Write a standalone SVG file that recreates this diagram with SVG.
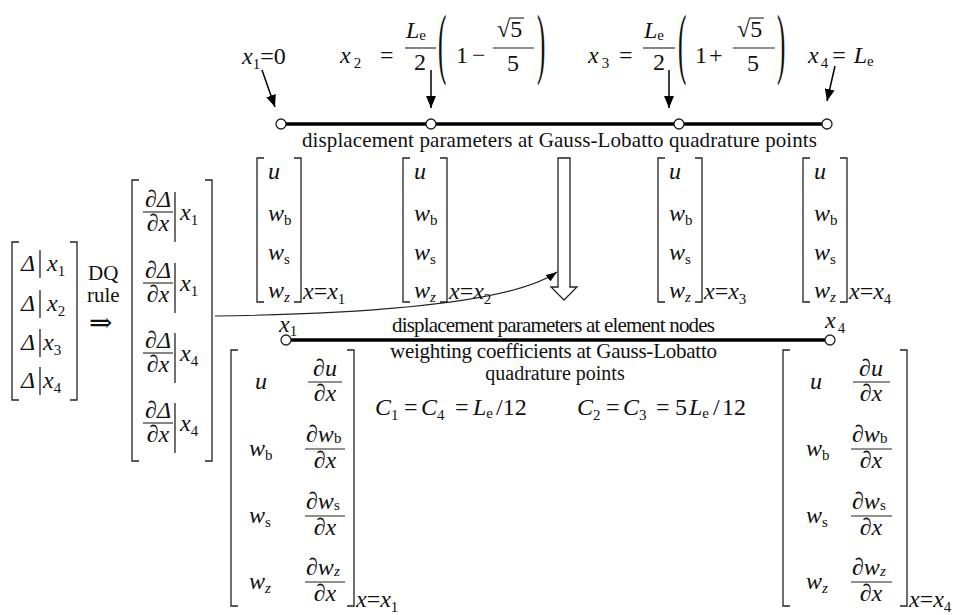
<svg xmlns="http://www.w3.org/2000/svg" width="958" height="615" viewBox="0 0 958 615">
<defs>
<style>
text { font-family: "Liberation Serif", "Times New Roman", "DejaVu Serif", serif; fill: #111; }
.m { font-size: 24px; }
.i { font-style: italic; }
.sb { font-size: 15px; font-style: normal; }
.si { font-size: 15px; font-style: italic; }
.lbl { font-size: 21px; }
.pr { font-size: 78px; }
.br { fill: none; stroke: #222; stroke-width: 1.3; }
.bar { stroke: #222; stroke-width: 1.3; }
.fl { stroke: #222; stroke-width: 1.1; }
.ln { stroke: #000; stroke-width: 3.5; }
.node { fill: #fff; stroke: #222; stroke-width: 1.3; }
.arr { stroke: #000; stroke-width: 1.5; fill: none; marker-end: url(#ah); }
.crv { stroke: #222; stroke-width: 1.1; fill: none; marker-end: url(#ah2); }
</style>
<marker id="ah" markerUnits="userSpaceOnUse" markerWidth="12" markerHeight="10" viewBox="0 0 12 10" refX="12" refY="5" orient="auto"><path d="M0,0 L12,5 L0,10 z" fill="#000"/></marker>
<marker id="ah2" markerUnits="userSpaceOnUse" markerWidth="11" markerHeight="8" viewBox="0 0 11 8" refX="11" refY="4" orient="auto"><path d="M0,0 L11,4 L0,8 z" fill="#000"/></marker>
</defs>

<!-- top formulas -->
<g id="lbl-x1">
<text class="m" x="242" y="64"><tspan class="i">x</tspan><tspan class="sb" dy="5">1</tspan><tspan dy="-5">=0</tspan></text>
</g>
<g id="lbl-x2">
<text class="m" x="340" y="63"><tspan class="i">x</tspan><tspan class="sb" dy="5" dx="3">2</tspan></text>
<text class="m" x="380" y="63">=</text>
<text class="m" x="406" y="38"><tspan class="i">L</tspan><tspan class="sb" dy="2">e</tspan></text>
<line class="fl" x1="405" y1="48" x2="436" y2="48"/>
<text class="m" x="420" y="70" text-anchor="middle">2</text>
<text class="pr" transform="translate(438,69) scale(0.32,1)">(</text>
<text class="m" x="456" y="63">1</text>
<text class="m" x="472" y="63">−</text>
<text class="m" x="497" y="37">√5</text>
<line class="fl" x1="510" y1="18" x2="524" y2="18"/>
<line class="fl" x1="493" y1="48" x2="534" y2="48"/>
<text class="m" x="513" y="71" text-anchor="middle">5</text>
<text class="pr" transform="translate(537,69) scale(0.32,1)">)</text>
</g>
<g id="lbl-x3">
<text class="m" x="588" y="63"><tspan class="i">x</tspan><tspan class="sb" dy="5" dx="3">3</tspan></text>
<text class="m" x="619" y="63">=</text>
<text class="m" x="644" y="38"><tspan class="i">L</tspan><tspan class="sb" dy="2">e</tspan></text>
<line class="fl" x1="643" y1="48" x2="675" y2="48"/>
<text class="m" x="659" y="70" text-anchor="middle">2</text>
<text class="pr" transform="translate(678,69) scale(0.32,1)">(</text>
<text class="m" x="695" y="63">1</text>
<text class="m" x="709" y="63">+</text>
<text class="m" x="737" y="37">√5</text>
<line class="fl" x1="750" y1="18" x2="764" y2="18"/>
<line class="fl" x1="733" y1="48" x2="775" y2="48"/>
<text class="m" x="753" y="71" text-anchor="middle">5</text>
<text class="pr" transform="translate(777,69) scale(0.32,1)">)</text>
</g>
<g id="lbl-x4">
<text class="m" x="808" y="63"><tspan class="i">x</tspan><tspan class="sb" dy="5" dx="2">4</tspan><tspan dy="-5" dx="4">=</tspan><tspan class="i" dx="8">L</tspan><tspan class="sb" dy="3">e</tspan></text>
</g>

<!-- Gauss-Lobatto line -->
<g id="gl-line">
<line class="ln" x1="281" y1="124" x2="827" y2="124"/>
<circle class="node" cx="281" cy="124" r="5"/>
<circle class="node" cx="431" cy="124" r="5"/>
<circle class="node" cx="679" cy="124" r="5"/>
<circle class="node" cx="827" cy="124" r="5"/>
<text class="lbl" x="302" y="147" textLength="515">displacement parameters at Gauss-Lobatto quadrature points</text>
</g>

<!-- top vectors -->
<g id="vec-x1" transform="translate(257,0)">
<path class="br" d="M7,158 H0 V302 H7"/><path class="br" d="M37,158 H44 V302 H37"/>
<text class="m i" x="11" y="179">u</text>
<text class="m" x="11" y="221"><tspan class="i">w</tspan><tspan class="sb" dy="4">b</tspan></text>
<text class="m" x="11" y="260"><tspan class="i">w</tspan><tspan class="sb" dy="4">s</tspan></text>
<text class="m" x="11" y="298"><tspan class="i">w</tspan><tspan class="si" dy="4">z</tspan></text>
<text class="m" x="46" y="299"><tspan class="i">x</tspan>=<tspan class="i">x</tspan><tspan class="sb" dy="5">1</tspan></text>
</g>
<g id="vec-x2" transform="translate(403,0)">
<path class="br" d="M7,158 H0 V302 H7"/><path class="br" d="M37,158 H44 V302 H37"/>
<text class="m i" x="11" y="179">u</text>
<text class="m" x="11" y="221"><tspan class="i">w</tspan><tspan class="sb" dy="4">b</tspan></text>
<text class="m" x="11" y="260"><tspan class="i">w</tspan><tspan class="sb" dy="4">s</tspan></text>
<text class="m" x="11" y="298"><tspan class="i">w</tspan><tspan class="si" dy="4">z</tspan></text>
<text class="m" x="46" y="299"><tspan class="i">x</tspan>=<tspan class="i">x</tspan><tspan class="sb" dy="5">2</tspan></text>
</g>
<g id="vec-x3" transform="translate(658,0)">
<path class="br" d="M7,158 H0 V302 H7"/><path class="br" d="M37,158 H44 V302 H37"/>
<text class="m i" x="11" y="179">u</text>
<text class="m" x="11" y="221"><tspan class="i">w</tspan><tspan class="sb" dy="4">b</tspan></text>
<text class="m" x="11" y="260"><tspan class="i">w</tspan><tspan class="sb" dy="4">s</tspan></text>
<text class="m" x="11" y="298"><tspan class="i">w</tspan><tspan class="si" dy="4">z</tspan></text>
<text class="m" x="46" y="299"><tspan class="i">x</tspan>=<tspan class="i">x</tspan><tspan class="sb" dy="5">3</tspan></text>
</g>
<g id="vec-x4" transform="translate(803,0)">
<path class="br" d="M7,158 H0 V302 H7"/><path class="br" d="M37,158 H44 V302 H37"/>
<text class="m i" x="11" y="179">u</text>
<text class="m" x="11" y="221"><tspan class="i">w</tspan><tspan class="sb" dy="4">b</tspan></text>
<text class="m" x="11" y="260"><tspan class="i">w</tspan><tspan class="sb" dy="4">s</tspan></text>
<text class="m" x="11" y="298"><tspan class="i">w</tspan><tspan class="si" dy="4">z</tspan></text>
<text class="m" x="46" y="299"><tspan class="i">x</tspan>=<tspan class="i">x</tspan><tspan class="sb" dy="5">4</tspan></text>
</g>

<!-- left delta vector -->
<g id="delta-vec">
<path class="br" d="M19,242 H12 V400 H19"/><path class="br" d="M70,242 H77 V400 H70"/>
<text class="m i" x="21" y="271">Δ</text><line class="bar" x1="40" y1="250" x2="40" y2="278"/>
<text class="m" x="47" y="271"><tspan class="i">x</tspan><tspan class="sb" dy="5">1</tspan></text>
<text class="m i" x="21" y="311">Δ</text><line class="bar" x1="40" y1="290" x2="40" y2="318"/>
<text class="m" x="47" y="311"><tspan class="i">x</tspan><tspan class="sb" dy="5">2</tspan></text>
<text class="m i" x="21" y="350">Δ</text><line class="bar" x1="40" y1="329" x2="40" y2="357"/>
<text class="m" x="43" y="350"><tspan class="i">x</tspan><tspan class="sb" dy="5">3</tspan></text>
<text class="m i" x="21" y="388">Δ</text><line class="bar" x1="40" y1="367" x2="40" y2="395"/>
<text class="m" x="43" y="388"><tspan class="i">x</tspan><tspan class="sb" dy="5">4</tspan></text>
</g>

<g id="dq-rule">
<text class="lbl" x="88" y="280">DQ</text>
<text class="lbl" x="87" y="302">rule</text>
<text font-size="28" x="89" y="332">⇒</text>
</g>

<!-- derivative vector -->
<g id="dq-vec">
<path class="br" d="M139,180 H132 V461 H139"/><path class="br" d="M205,180 H212 V461 H205"/>
<text class="m i" x="158" y="207" text-anchor="middle">∂Δ</text><line class="fl" x1="143" y1="212" x2="173" y2="212"/><text class="m i" x="158" y="231" text-anchor="middle">∂x</text>
<line class="bar" x1="175" y1="192" x2="175" y2="242"/>
<text class="m" x="180" y="220"><tspan class="i">x</tspan><tspan class="sb" dy="5">1</tspan></text>
<text class="m i" x="158" y="278" text-anchor="middle">∂Δ</text><line class="fl" x1="143" y1="283" x2="173" y2="283"/><text class="m i" x="158" y="302" text-anchor="middle">∂x</text>
<line class="bar" x1="175" y1="263" x2="175" y2="313"/>
<text class="m" x="180" y="291"><tspan class="i">x</tspan><tspan class="sb" dy="5">1</tspan></text>
<text class="m i" x="158" y="348" text-anchor="middle">∂Δ</text><line class="fl" x1="143" y1="353" x2="173" y2="353"/><text class="m i" x="158" y="372" text-anchor="middle">∂x</text>
<line class="bar" x1="175" y1="333" x2="175" y2="383"/>
<text class="m" x="180" y="361"><tspan class="i">x</tspan><tspan class="sb" dy="5">4</tspan></text>
<text class="m i" x="158" y="418" text-anchor="middle">∂Δ</text><line class="fl" x1="143" y1="423" x2="173" y2="423"/><text class="m i" x="158" y="442" text-anchor="middle">∂x</text>
<line class="bar" x1="175" y1="403" x2="175" y2="453"/>
<text class="m" x="180" y="431"><tspan class="i">x</tspan><tspan class="sb" dy="5">4</tspan></text>
</g>

<!-- element nodes line -->
<g id="elem-line">
<line class="ln" x1="286" y1="340" x2="830" y2="340"/>
<circle class="node" cx="286" cy="340" r="5"/>
<circle class="node" cx="830" cy="340" r="5"/>
<text class="m" x="279" y="332"><tspan class="i">x</tspan><tspan class="sb" dy="4">1</tspan></text>
<text class="m" x="825" y="328"><tspan class="i">x</tspan><tspan class="sb" dy="5" dx="2">4</tspan></text>
<text class="lbl" x="392" y="332" textLength="323">displacement parameters at element nodes</text>
</g>

<g id="weights">
<text class="lbl" x="390" y="358" textLength="327">weighting coefficients at Gauss-Lobatto</text>
<text font-size="20" x="555" y="380" text-anchor="middle">quadrature points</text>
<text class="m" x="375" y="415"><tspan class="i">C</tspan><tspan class="sb" dy="5">1</tspan><tspan dy="-5" x="404">=</tspan><tspan class="i" x="421">C</tspan><tspan class="sb" dy="5">4</tspan><tspan dy="-5" x="455">=</tspan><tspan class="i" x="473">L</tspan><tspan class="sb" dy="3">e</tspan><tspan dy="-3" x="496">/12</tspan></text>
<text class="m" x="577" y="415"><tspan class="i">C</tspan><tspan class="sb" dy="5">2</tspan><tspan dy="-5" x="606">=</tspan><tspan class="i" x="623">C</tspan><tspan class="sb" dy="5">3</tspan><tspan dy="-5" x="656">=</tspan><tspan x="675">5</tspan><tspan class="i" x="689">L</tspan><tspan class="sb" dy="3">e</tspan><tspan dy="-3" x="713">/</tspan><tspan x="722">12</tspan></text>
</g>

<!-- lower left matrix -->
<g id="mat-x1">
<path class="br" d="M238,350 H231 V606 H238"/><path class="br" d="M347,350 H354 V606 H347"/>
<text class="m i" x="255" y="389">u</text>
<text class="m i" x="325" y="376" text-anchor="middle">∂u</text><line class="fl" x1="308" y1="382" x2="342" y2="382"/><text class="m i" x="325" y="401" text-anchor="middle">∂x</text>
<text class="m" x="249" y="456"><tspan class="i">w</tspan><tspan class="sb" dy="4">b</tspan></text>
<text class="m" x="306" y="442"><tspan class="i">∂w</tspan><tspan class="sb" dy="1">b</tspan></text><line class="fl" x1="305" y1="449" x2="345" y2="449"/><text class="m i" x="325" y="468" text-anchor="middle">∂x</text>
<text class="m" x="249" y="523"><tspan class="i">w</tspan><tspan class="sb" dy="4">s</tspan></text>
<text class="m" x="306" y="509"><tspan class="i">∂w</tspan><tspan class="sb" dy="1">s</tspan></text><line class="fl" x1="305" y1="516" x2="345" y2="516"/><text class="m i" x="325" y="535" text-anchor="middle">∂x</text>
<text class="m" x="249" y="589"><tspan class="i">w</tspan><tspan class="si" dy="4">z</tspan></text>
<text class="m" x="306" y="575"><tspan class="i">∂w</tspan><tspan class="si" dy="1">z</tspan></text><line class="fl" x1="305" y1="582" x2="345" y2="582"/><text class="m i" x="325" y="601" text-anchor="middle">∂x</text>
<text class="m" x="356" y="607"><tspan class="i">x</tspan>=<tspan class="i">x</tspan><tspan class="sb" dy="5">1</tspan></text>
</g>

<!-- lower right matrix -->
<g id="mat-x4">
<path class="br" d="M790,350 H783 V606 H790"/><path class="br" d="M900,350 H907 V606 H900"/>
<text class="m i" x="810" y="389">u</text>
<text class="m i" x="871" y="376" text-anchor="middle">∂u</text><line class="fl" x1="853" y1="382" x2="890" y2="382"/><text class="m i" x="871" y="401" text-anchor="middle">∂x</text>
<text class="m" x="806" y="456"><tspan class="i">w</tspan><tspan class="sb" dy="4">b</tspan></text>
<text class="m" x="852" y="442"><tspan class="i">∂w</tspan><tspan class="sb" dy="1">b</tspan></text><line class="fl" x1="851" y1="449" x2="892" y2="449"/><text class="m i" x="871" y="468" text-anchor="middle">∂x</text>
<text class="m" x="806" y="523"><tspan class="i">w</tspan><tspan class="sb" dy="4">s</tspan></text>
<text class="m" x="852" y="509"><tspan class="i">∂w</tspan><tspan class="sb" dy="1">s</tspan></text><line class="fl" x1="851" y1="516" x2="892" y2="516"/><text class="m i" x="871" y="535" text-anchor="middle">∂x</text>
<text class="m" x="806" y="589"><tspan class="i">w</tspan><tspan class="si" dy="4">z</tspan></text>
<text class="m" x="852" y="575"><tspan class="i">∂w</tspan><tspan class="si" dy="1">z</tspan></text><line class="fl" x1="851" y1="582" x2="892" y2="582"/><text class="m i" x="871" y="601" text-anchor="middle">∂x</text>
<text class="m" x="909" y="607"><tspan class="i">x</tspan>=<tspan class="i">x</tspan><tspan class="sb" dy="5">4</tspan></text>
</g>

<!-- connectors -->
<g id="connectors">
<line class="arr" x1="262" y1="70" x2="275" y2="107"/>
<line class="arr" x1="431" y1="70" x2="431" y2="108"/>
<line class="arr" x1="669" y1="70" x2="669" y2="108"/>
<line class="arr" x1="835" y1="66" x2="827" y2="101"/>
<path class="crv" d="M215,316 Q500,312 557,272"/>
<path d="M558,158 H570 V287 H577 L564,300 L551,287 H558 Z" fill="#fff" stroke="#222" stroke-width="1.3"/>
</g>
</svg>
